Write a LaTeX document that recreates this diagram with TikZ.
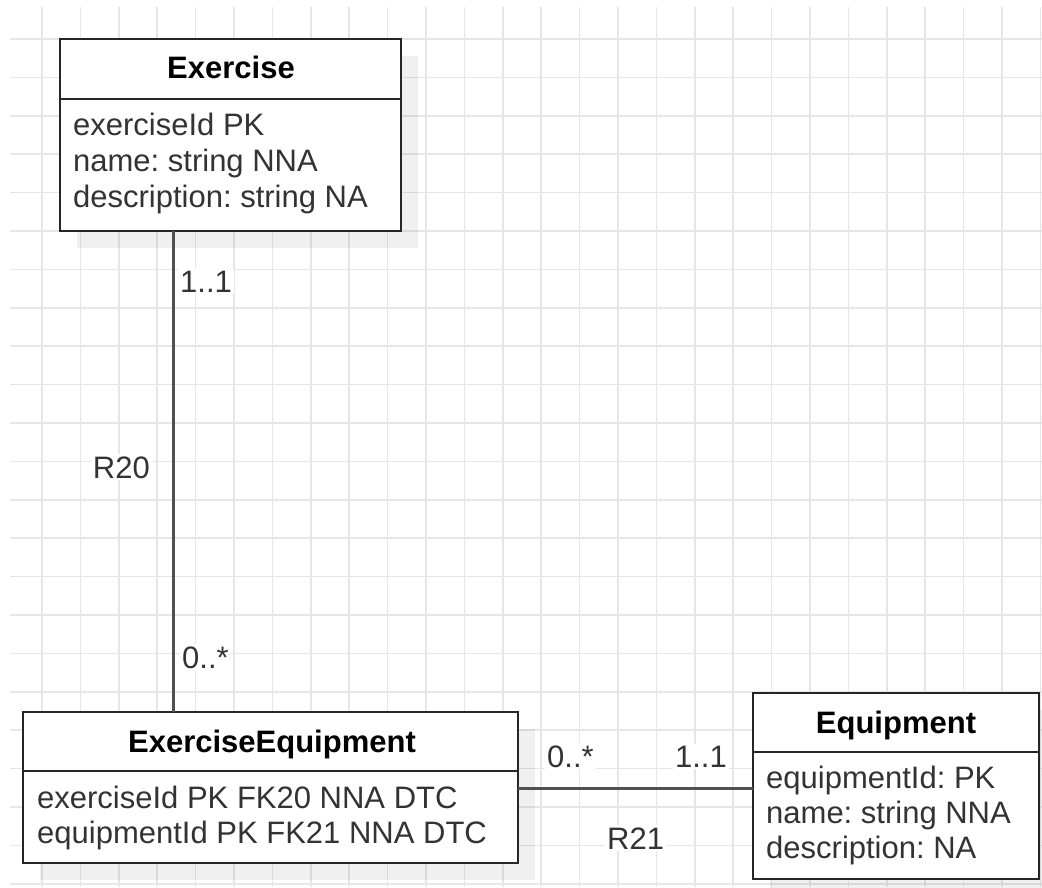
\documentclass[tikz,border=0pt]{standalone}
\usepackage{fontspec}
\setmainfont{Liberation Sans}
\frenchspacing
\definecolor{gridc}{HTML}{E6E6E6}
\definecolor{boxline}{HTML}{262626}
\definecolor{txt}{HTML}{333333}
\definecolor{conn}{HTML}{505050}
\begin{document}
\begin{tikzpicture}[x=1pt,y=-1pt,
  entity/.style={draw=boxline, line width=2.2pt, fill=white, anchor=north west,
    inner sep=0pt, outer sep=0pt},
  shadowbox/.style={fill=black, fill opacity=0.06, draw=none},
  sepline/.style={draw=boxline, line width=2.2pt},
  title/.style={anchor=base, inner sep=0pt, font=\fontsize{31}{36}\selectfont\bfseries, text=black},
  attr/.style={anchor=base west, inner sep=0pt, font=\fontsize{31}{36}\selectfont, text=txt},
  mult/.style={inner sep=2pt, fill=white, font=\fontsize{31}{36}\selectfont, text=txt},
  link/.style={draw=conn, line width=3pt}]

\useasboundingbox (0,0) rectangle (1042,887);
\fill[white] (0,0) rectangle (1042,887);

% background grid
\begin{scope}
  \clip (10,7) rectangle (1042,887);
  \foreach \i in {0,...,26}
    \draw[gridc, line width=1.6pt] ({42+38.4*\i},7) -- ({42+38.4*\i},887);
  \foreach \j in {0,...,22}
    \draw[gridc, line width=1.6pt] (10,{39+38.4*\j}) -- (1042,{39+38.4*\j});
\end{scope}

% drop shadows
\fill[shadowbox] (77,56) rectangle (418,248);
\fill[shadowbox] (39.5,728.5) rectangle (534.5,879.5);
\fill[shadowbox] (770,710) rectangle (1056,896);

% entity boxes
\node[entity, minimum width=341pt, minimum height=192pt] (ex) at (60,39) {};
\node[entity, minimum width=495.3pt, minimum height=151pt] (ee) at (22.7,712) {};
\node[entity, minimum width=286pt, minimum height=186pt] (eq) at (753,693) {};

% header separators
\draw[sepline] (60,99) -- (401,99);
\draw[sepline] (22.7,771) -- (518,771);
\draw[sepline] (753,752) -- (1039,752);

% Exercise
\node[title] (extitle) at (231,78) {Exercise};
\node[attr] (exa1) at (73,135) {exerciseId PK};
\node[attr] (exa2) at (73,171) {name: string NNA};
\node[attr] (exa3) at (73,207) {description: string NA};

% ExerciseEquipment
\node[title] (eetitle) at (272,752) {ExerciseEquipment};
\node[attr] (eea1) at (37,808) {exerciseId PK FK20 NNA DTC};
\node[attr] (eea2) at (37,843) {equipmentId PK FK21 NNA DTC};

% Equipment
\node[title] (eqtitle) at (896,733) {Equipment};
\node[attr] (eqa1) at (766,788) {equipmentId: PK};
\node[attr] (eqa2) at (766,823) {name: string NNA};
\node[attr] (eqa3) at (766,858) {description: NA};

% relationships
\coordinate (r20x) at (173,0);
\coordinate (r21y) at (0,788);
\draw[link] (ex.south -| r20x) -- (ee.north -| r20x);
\draw[link] (ee.east |- r21y) -- (eq.west |- r21y);

% multiplicities and relationship names
\node[mult, anchor=base west] (m1) at (178,292) {1..1};
\node[mult, anchor=base west] (m2) at (180,668) {0..*};
\node[mult, anchor=base east] (rn20) at (152,478) {R20};
\node[mult, anchor=base west] (m3) at (545,767) {0..*};
\node[mult, anchor=base east] (m4) at (729,767) {1..1};
\node[mult, anchor=base west] (rn21) at (605,849) {R21};
\end{tikzpicture}
\end{document}
